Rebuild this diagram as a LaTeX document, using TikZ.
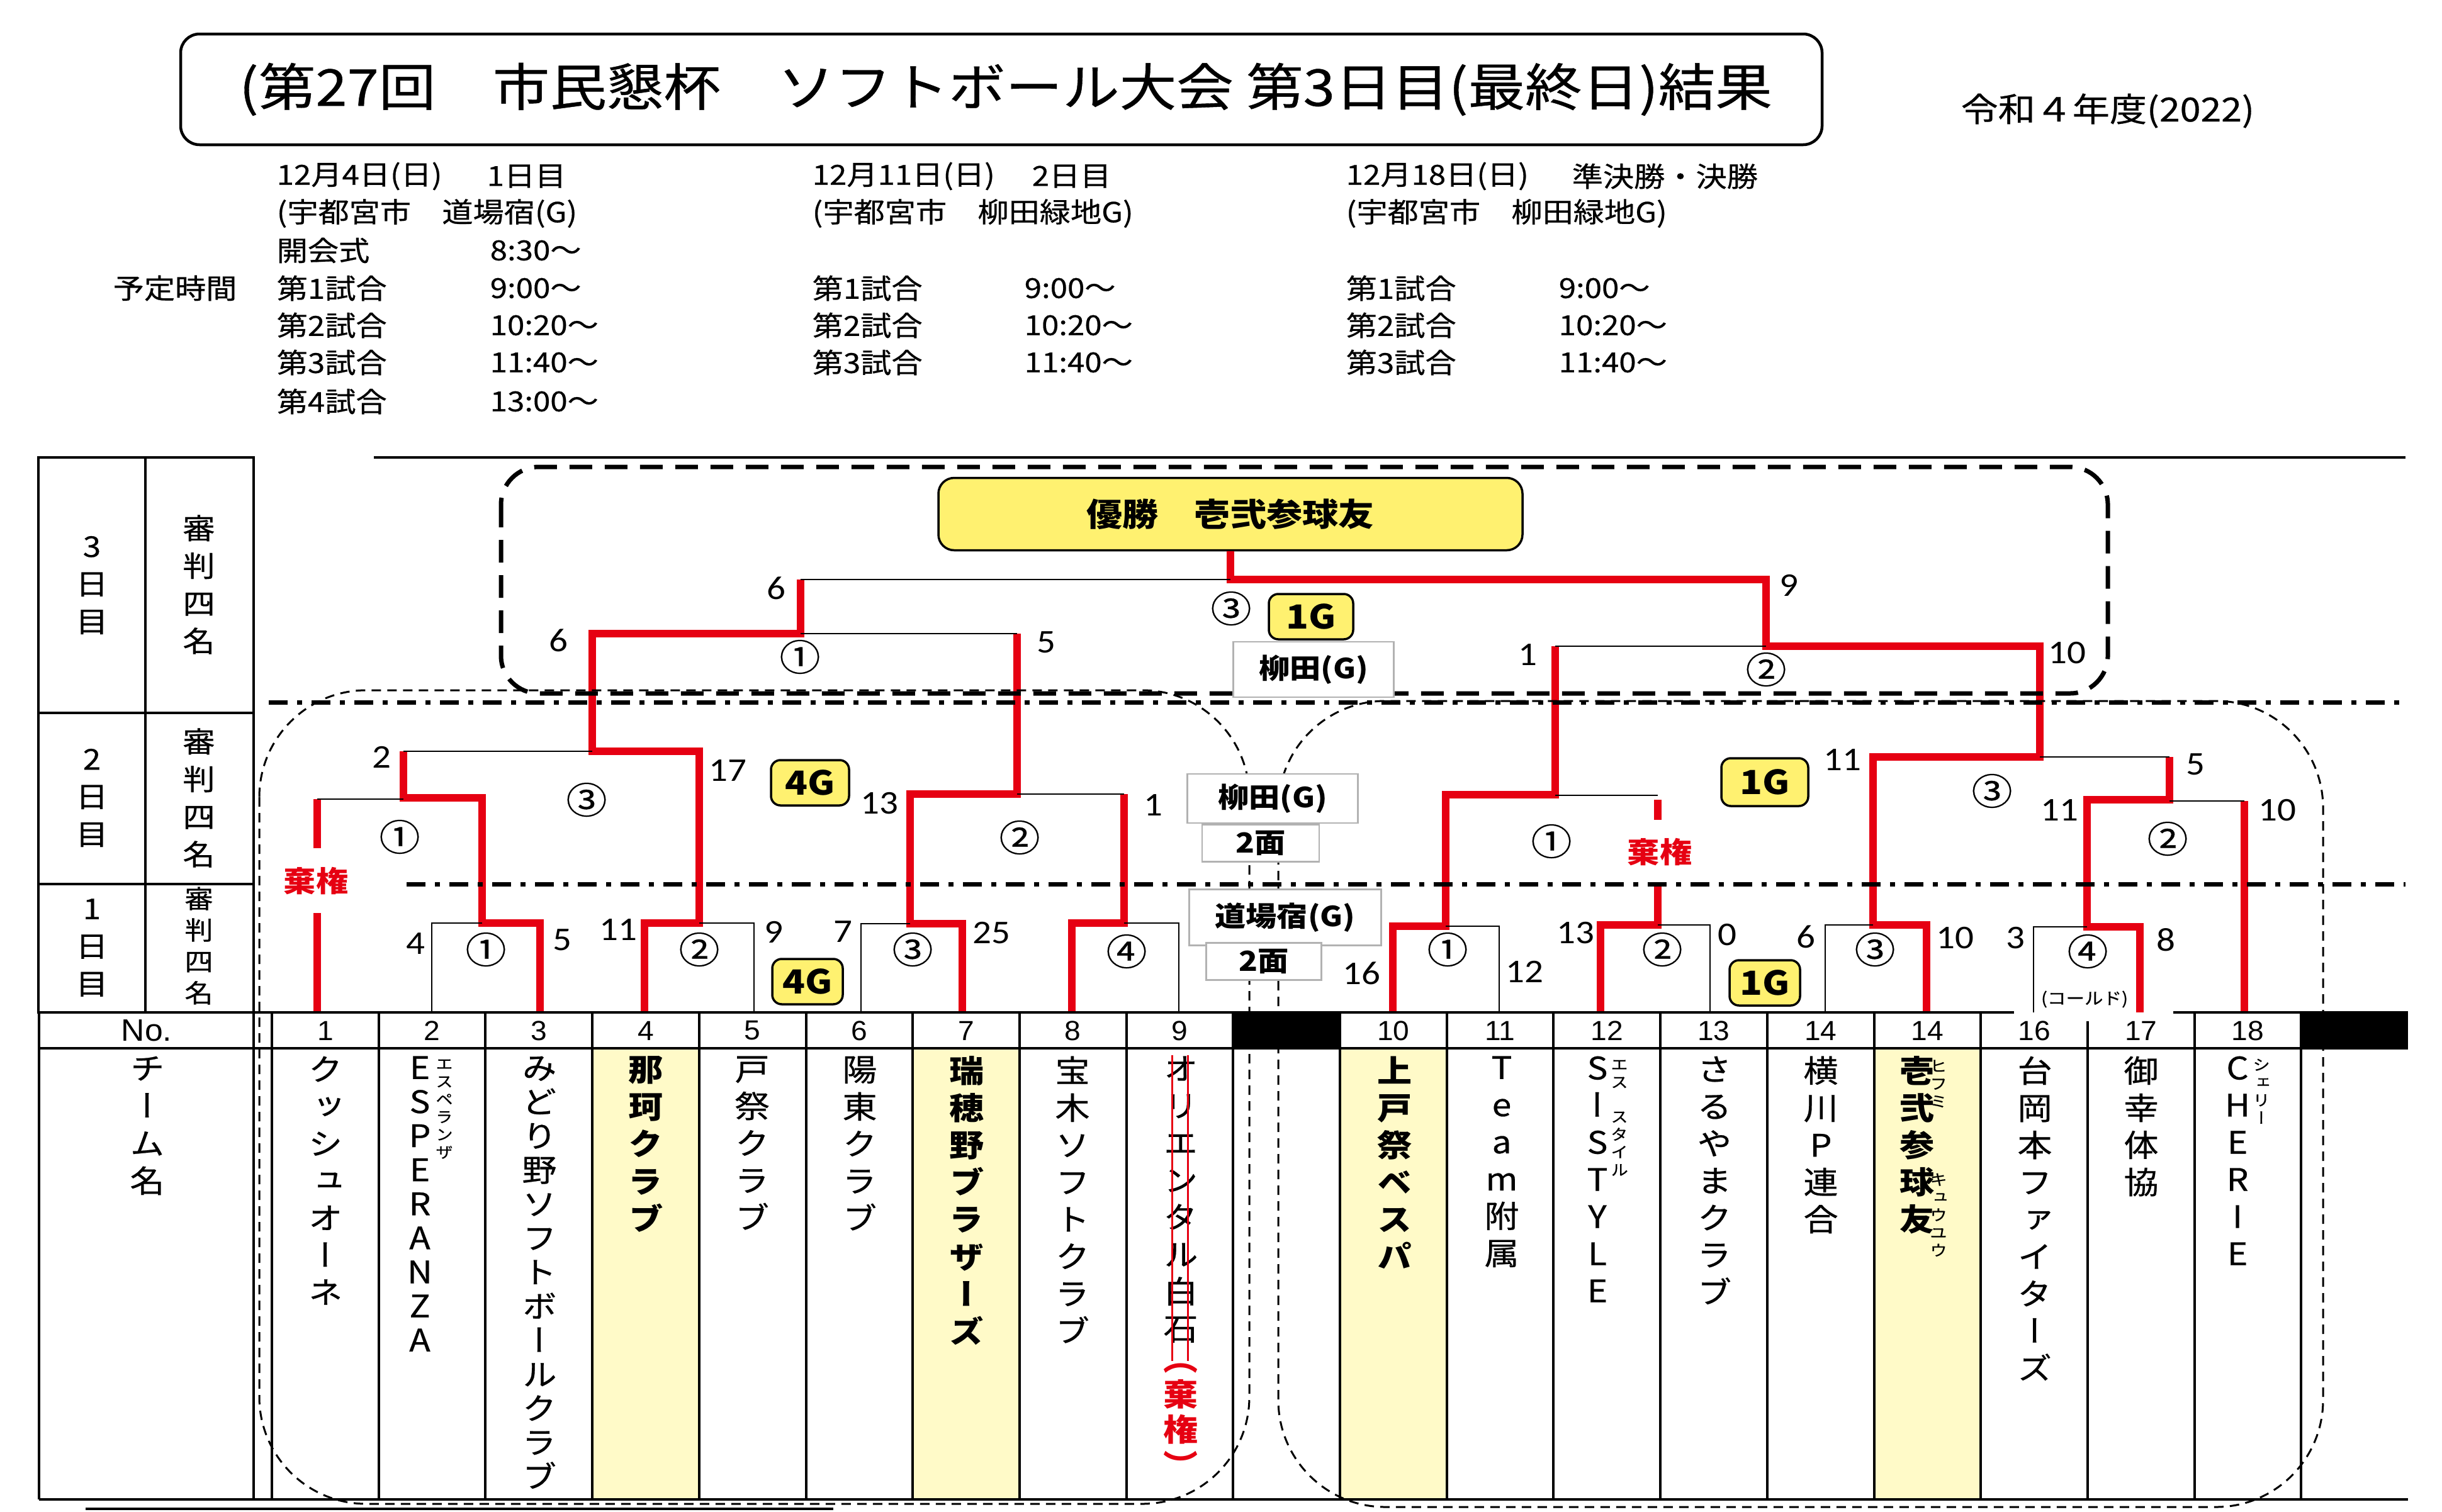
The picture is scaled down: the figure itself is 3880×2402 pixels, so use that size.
\documentclass[tikz,border=0pt]{standalone}
\usepackage{fontspec}
\newfontfamily\jp{Noto Sans CJK JP}[FakeStretch=1.12, UprightFeatures={FakeBold=0.5}]
\newfontfamily\jpv{Noto Sans CJK JP}[FakeStretch=1.12, RawFeature=+vert, UprightFeatures={FakeBold=0.5}]
\newfontfamily\scorefont{Carlito}[FakeStretch=1.12]
\newfontfamily\nofont{Liberation Sans}[FakeStretch=1.05]

\definecolor{winred}{RGB}{230,0,18}
\definecolor{boxyellow}{RGB}{255,241,112}
\definecolor{colyellow}{RGB}{255,250,200}

\tikzset{
    win/.style={winred, line width=1.15mm},
    lose/.style={black, line width=0.25mm},
    tbl/.style={black, line width=0.4mm},
    daysep/.style={black, line width=0.7mm, dash pattern=on 3mm off 1.5mm on 0.8mm off 1.5mm},
    dayframe/.style={black, line width=0.7mm, dash pattern=on 3.6mm off 2mm, rounded corners=6mm},
    zoneframe/.style={black, line width=0.3mm, dash pattern=on 1.5mm off 1mm, rounded corners=17mm},
    score/.style={inner sep=0pt, font=\scorefont\fontsize{15}{15}\selectfont},
    gameno/.style={inner sep=0pt, font=\jp\fontsize{16.5}{16.5}\selectfont},
    gbox/.style={draw=black, fill=boxyellow, rounded corners=1.5mm, line width=0.35mm, inner sep=0pt,
        minimum width=12.4mm, minimum height=7.2mm, font=\jp\bfseries\fontsize{15}{15}\selectfont},
    venue/.style={draw=black!30, fill=white, line width=0.25mm, inner sep=0pt,
        font=\jp\bfseries\fontsize{12.5}{12.5}\selectfont},
    forfeit/.style={winred, inner sep=0pt, font=\jp\bfseries\fontsize{13}{13}\selectfont},
    sched/.style={anchor=west, inner sep=0pt, font=\jp\fontsize{12.5}{12.5}\selectfont},
    vday/.style={align=center, inner sep=0pt, font=\jp\fontsize{13}{17}\selectfont},
    team/.style={anchor=north, align=center, inner sep=0pt, font=\jpv\fontsize{14}{16.8}\selectfont},
    teamtight/.style={team, font=\jpv\fontsize{14}{15.4}\selectfont},
    teambold/.style={team, font=\jpv\bfseries\fontsize{14}{16.8}\selectfont},
    ruby/.style={anchor=north, align=center, inner sep=0pt, font=\jpv\fontsize{7}{8}\selectfont},
    noline/.style={inner sep=0pt, font=\nofont\fontsize{12.5}{12.5}\selectfont}
}

\begin{document}
\begin{tikzpicture}[x=0.1mm, y=-0.1mm]

    % Define the sheet
    \fill[white] (0,0) rectangle (3880,2402);
    \useasboundingbox (0,0) rectangle (3880,2402);

    % Define the column grid of the team table
    \def\colx{432}
    \def\colw{169.7}

    % Define the foot of every team line (top of the No. row)
    \foreach \n/\x in {1/504,2/686,3/858,4/1024,5/1198,6/1368,7/1529,8/1703,9/1873,
                       10/2213,11/2382,12/2543,13/2717,14/2900,15/3061,16/3231,17/3400,18/3566}
        \coordinate (t\n) at (\x,1609);

    % Title box and year
    \draw[line width=0.45mm, rounded corners=3mm] (287,54) rectangle (2895,230);
    \node[inner sep=0pt, font=\jp\fontsize{23}{23}\selectfont] (title) at (1598,142)
        {(第27回　市民懇杯　ソフトボール大会 第3日目(最終日)結果};
    \node[anchor=west, inner sep=0pt, font=\jp\fontsize{15}{15}\selectfont] (year) at (3115,176) {令和４年度(2022)};

    % Schedule, day 1
    \node[sched] at (439,280) {12月4日(日)};
    \node[sched] at (773,280) {1日目};
    \node[sched] at (439,339) {(宇都宮市　道場宿(G)};
    \node[sched] at (439,398) {開会式};
    \node[sched] at (778,398) {8:30～};
    \node[sched] at (179,458) {予定時間};
    \foreach \y/\n/\t in {458/1/9:00～,517/2/10:20～,576/3/11:40～,638/4/13:00～} {
        \node[sched] at (439,\y) {第{\n}試合};
        \node[sched] at (778,\y) {\t};
    }

    % Schedule, day 2
    \node[sched] at (1290,280) {12月11日(日)};
    \node[sched] at (1639,280) {2日目};
    \node[sched] at (1290,339) {(宇都宮市　柳田緑地G)};
    \foreach \y/\n/\t in {458/1/9:00～,517/2/10:20～,576/3/11:40～} {
        \node[sched] at (1290,\y) {第{\n}試合};
        \node[sched] at (1627,\y) {\t};
    }

    % Schedule, day 3
    \node[sched] at (2138,280) {12月18日(日)};
    \node[sched] at (2497,280) {準決勝・決勝};
    \node[sched] at (2138,339) {(宇都宮市　柳田緑地G)};
    \foreach \y/\n/\t in {458/1/9:00～,517/2/10:20～,576/3/11:40～} {
        \node[sched] at (2138,\y) {第{\n}試合};
        \node[sched] at (2476,\y) {\t};
    }

    % Yellow columns of the four teams that reached day 3
    \foreach \k in {3,6,10,15}
        \fill[colyellow] ({\colx+\k*\colw},1666) rectangle ({\colx+(\k+1)*\colw},2383);

    % Champion box
    \node[draw, fill=boxyellow, rounded corners=2.5mm, line width=0.35mm, inner sep=0pt,
          minimum width=92.8mm, minimum height=11.5mm,
          font=\jp\bfseries\fontsize{14.5}{14.5}\selectfont] (champ) at (1955,817) {優勝　壱弐参球友};

    % Winning paths (red)
    \draw[win] (t1) -- (504,1451);
    \draw[win] (504,1348) -- (504,1270);
    \draw[win] (t3) |- (766,1467) |- (641,1268) -- (641,1194);
    \draw[win] (t4) |- (1111,1467) |- (941,1194) |- (1272,1007) -- (1272,921);
    \draw[win] (t7) |- (1446,1468) |- (1616,1262) -- (1616,1007);
    \draw[win] (t8) |- (1786,1467) -- (1786,1262);
    \draw[win] (t10) |- (2297,1472) |- (2471,1263) -- (2471,1027);
    \draw[win] (t12) |- (2634,1470) -- (2634,1403);
    \draw[win] (2634,1303) -- (2634,1271);
    \draw[win] (t15) |- (2976,1470) |- (3241,1203) |- (2806,1027) |- (1955,921) -- (champ.south);
    \draw[win] (t17) |- (3316,1473) |- (3447,1271) -- (3447,1203);
    \draw[win] (t18) -- (3566,1273);

    % Losing sides (thin)
    \draw[lose] (t2) |- (766,1467);
    \draw[lose] (t5) |- (1111,1467);
    \draw[lose] (t6) |- (1446,1468);
    \draw[lose] (t9) |- (1786,1467);
    \draw[lose] (504,1270) -- (641,1270);
    \draw[lose] (641,1194) -- (941,1194);
    \draw[lose] (1616,1262) -- (1786,1262);
    \draw[lose] (1272,1007) -- (1616,1007);
    \draw[lose] (1272,921) -- (1955,921);
    \draw[lose] (t11) |- (2297,1472);
    \draw[lose] (t13) |- (2634,1470);
    \draw[lose] (t14) |- (2976,1470);
    \draw[lose] (t16) |- (3316,1473);
    \draw[lose] (2471,1264) -- (2634,1264);
    \draw[lose] (3447,1273) -- (3566,1273);
    \draw[lose] (3241,1203) -- (3447,1203);
    \draw[lose] (2471,1027) -- (2806,1027);

    % Dashed frames and day separators
    \draw[dayframe] (796,742) rectangle (3349,1102);
    \draw[zoneframe] (412,1097) rectangle (1985,2390);
    \draw[zoneframe] (2031,1114) rectangle (3691,2395);
    \draw[daysep] (427,1116) -- (3813,1116);
    \draw[daysep] (646,1405) -- (3822,1405);

    % Day table on the left
    \draw[tbl] (61,727) rectangle (403,1609);
    \draw[tbl] (231,727) -- (231,1609);
    \draw[tbl] (61,1133) -- (403,1133);
    \draw[tbl] (61,1405) -- (403,1405);
    \draw[tbl] (594,727) -- (3822,727);

    % Team table
    \draw[tbl] (62,1609) -- (3200,1609);
    \draw[tbl] (3453,1609) -- (3826,1609);
    \draw[tbl] (62,1666) -- (3826,1666);
    \draw[tbl] (62,2383) -- (3826,2383);
    \draw[tbl] (62,1609) -- (62,2383);
    \draw[tbl] (403,1609) -- (403,2383);
    \foreach \k in {0,...,16,18,19}
        \draw[tbl] ({\colx+\k*\colw},1609) -- ({\colx+\k*\colw},2383);
    \draw[tbl] ({\colx+17*\colw},1623) -- ({\colx+17*\colw},2383);
    \fill ({\colx+9*\colw},1609) rectangle ({\colx+10*\colw},1666);
    \fill ({\colx+19*\colw},1609) rectangle (3826,1666);
    \draw[tbl] (136,2398) -- (1324,2398);

    % Day labels
    \node[vday] at (146,930) {3\\日\\目};
    \node[vday] at (316,929) {審\\判\\四\\名};
    \node[vday] at (146,1268) {2\\日\\目};
    \node[vday] at (316,1268) {審\\判\\四\\名};
    \node[vday] at (146,1506) {1\\日\\目};
    \node[vday, font=\jp\fontsize{11.5}{14.2}\selectfont] at (316,1503) {審\\判\\四\\名};

    % No. row
    \node[noline, font=\nofont\fontsize{14}{14}\selectfont] (no) at (233,1638) {No.};
    \foreach \k/\n in {0/1,1/2,2/3,3/4,4/5,5/6,6/7,7/8,8/9,10/10,11/11,12/12,13/13,14/14,15/14,16/16,17/17,18/18}
        \node[noline] at ({\colx+(\k+0.5)*\colw},1638) {\n};

    % Team names
    \node[team, font=\jpv\fontsize{14}{17}\selectfont] (head) at (234,1678) {チ\\ー\\ム\\名};
    \node[team] (name1) at (517,1678) {ク\\ッ\\シ\\ュ\\オ\\ー\\ネ};
    \node[teamtight] (name2) at (667,1678) {E\\S\\P\\E\\R\\A\\N\\Z\\A};
    \node[ruby] at (706,1683) {エ\\ス\\ペ\\ラ\\ン\\ザ};
    \node[teamtight] (name3) at (857,1678) {み\\ど\\り\\野\\ソ\\フ\\ト\\ボ\\ー\\ル\\ク\\ラ\\ブ};
    \node[teambold] (name4) at (1026,1678) {那\\珂\\ク\\ラ\\ブ};
    \node[team] (name5) at (1195,1678) {戸\\祭\\ク\\ラ\\ブ};
    \node[team] (name6) at (1366,1678) {陽\\東\\ク\\ラ\\ブ};
    \node[teambold] (name7) at (1536,1678) {瑞\\穂\\野\\ブ\\ラ\\ザ\\ー\\ズ};
    \node[team] (name8) at (1704,1678) {宝\\木\\ソ\\フ\\ト\\ク\\ラ\\ブ};
    \node[team] (name9) at (1876,1678) {オ\\リ\\エ\\ン\\タ\\ル\\白\\石};
    \draw[winred, line width=0.3mm] (1862,1677) -- (1862,2163);
    \draw[winred, line width=0.3mm] (1887,1677) -- (1887,2163);
    \node[teambold, text=winred, font=\jpv\bfseries\fontsize{14}{16}\selectfont] at (1876,2166) {（\\棄\\権\\）};
    \node[teambold] (name10) at (2216,1678) {上\\戸\\祭\\ベ\\ス\\パ};
    \node[team] (name11) at (2386,1678) {T\\e\\a\\m\\附\\属};
    \node[team] (name12) at (2538,1678) {S\\ー\\S\\T\\Y\\L\\E};
    \node[ruby] at (2573,1684) {エ\\ス};
    \node[ruby] at (2573,1766) {ス\\タ\\イ\\ル};
    \node[team] (name13) at (2724,1678) {さ\\る\\や\\ま\\ク\\ラ\\ブ};
    \node[team] (name14) at (2893,1678) {横\\川\\P\\連\\合};
    \node[teambold] (name15) at (3046,1678) {壱\\弐\\参\\球\\友};
    \node[ruby] at (3080,1684) {ヒ\\フ\\ミ};
    \node[ruby] at (3080,1864) {キ\\ュ\\ウ\\ユ\\ウ};
    \node[team] (name16) at (3233,1678) {台\\岡\\本\\フ\\ァ\\イ\\タ\\ー\\ズ};
    \node[team] (name17) at (3402,1678) {御\\幸\\体\\協};
    \node[team] (name18) at (3555,1678) {C\\H\\E\\R\\I\\E};
    \node[ruby] at (3593,1682) {シ\\ェ\\リ\\ー};

    % Scores
    \foreach \x/\y/\s in {887/1018/6,1662/1021/5,1233/935/6,2842/930/9,2427/1041/1,3284/1038/10,
                          606/1203/2,1156/1225/17,1397/1277/13,1832/1280/1,
                          2927/1208/11,3488/1215/5,3272/1288/11,3618/1288/10,
                          660/1500/4,893/1494/5,982/1478/11,1229/1481/9,1339/1481/7,1575/1483/25,
                          2163/1547/16,2422/1544/12,2503/1483/13,2744/1486/0,2869/1489/6,3106/1491/10,
                          3202/1491/3,3441/1494/8}
        \node[score] at (\x,\y) {\s};

    % Game numbers
    \foreach \x/\y/\g in {772/1509/①,1111/1509/②,1450/1509/③,1790/1512/④,
                          2300/1509/①,2641/1509/②,2979/1509/③,3317/1512/④,
                          635/1330/①,932/1271/③,1620/1331/②,2465/1337/①,3165/1257/③,3444/1333/②,
                          1271/1044/①,1956/967/③,2806/1064/②}
        \node[gameno] at (\x,\y) {\g};

    % Forfeits and called game
    \node[forfeit] (kiken1) at (502,1400) {棄権};
    \node[forfeit] (kiken2) at (2637,1354) {棄権};
    \node[inner sep=0pt, font=\jp\fontsize{7.5}{7.5}\selectfont] (cold) at (3312,1588) {(コールド)};

    % Number of grounds
    \node[gbox] (g4a) at (1287,1244) {4G};
    \node[gbox, minimum width=11.2mm] (g4b) at (1283,1560) {4G};
    \node[gbox, minimum width=13.4mm] (g1a) at (2083,980) {1G};
    \node[gbox, minimum width=13.8mm, minimum height=7.6mm] (g1b) at (2804,1243) {1G};
    \node[gbox, minimum width=11.2mm] (g1c) at (2804,1562) {1G};

    % Venues
    \node[venue, minimum width=25.5mm, minimum height=8.8mm] (yanagi3) at (2087,1064) {柳田(G)};
    \node[venue, minimum width=27.1mm, minimum height=7.8mm] (yanagi2) at (2022,1269) {柳田(G)};
    \node[venue, minimum width=18.6mm, minimum height=5.9mm] (men2) at (2003,1340) {2面};
    \node[venue, minimum width=30.5mm, minimum height=8.9mm] (dojo1) at (2042,1458) {道場宿(G)};
    \node[venue, minimum width=18.3mm, minimum height=5.9mm] (men1) at (2008,1528) {2面};

\end{tikzpicture}
\end{document}
